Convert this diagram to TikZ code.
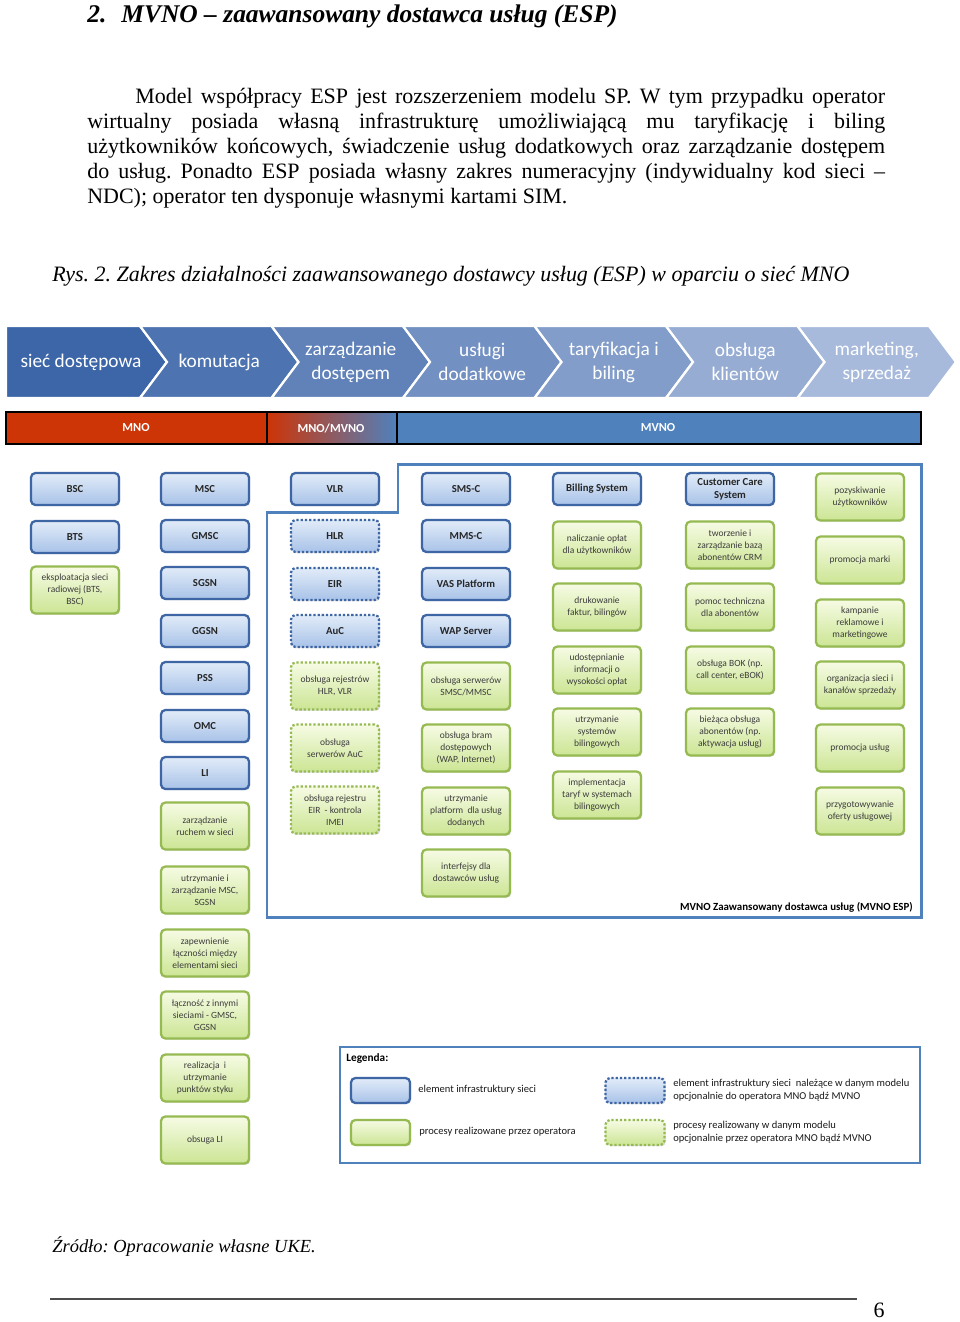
\documentclass[tikz,border=0pt]{standalone}
\usepackage{fontspec}
\setmainfont{Liberation Serif}
\newfontfamily\calfont{Carlito}
\usetikzlibrary{shadows}
\definecolor{chevDark}{RGB}{60,102,168}
\definecolor{chevLight}{RGB}{168,186,220}
\definecolor{mnoRed}{RGB}{205,52,6}
\definecolor{mixViolet}{RGB}{170,80,140}
\definecolor{mvnoBlue}{RGB}{79,129,189}
\definecolor{infraTop}{RGB}{226,236,249}
\definecolor{infraBot}{RGB}{168,194,232}
\definecolor{infraLine}{RGB}{62,102,164}
\definecolor{procTop}{RGB}{246,251,228}
\definecolor{procBot}{RGB}{204,229,148}
\definecolor{procLine}{RGB}{150,186,82}
\definecolor{procText}{RGB}{60,60,60}
\frenchspacing

\begin{document}
\begin{tikzpicture}[
  x=0.02cm, y=-0.02cm,
  every node/.style={inner sep=0pt},
  box/.style={rounded corners=2.5pt, minimum width=1.76cm, align=center, line width=1.3pt,
              drop shadow={shadow xshift=0.7pt, shadow yshift=-0.7pt, opacity=0.3}},
  infra/.style={box, draw=infraLine, top color=infraTop, bottom color=infraBot, minimum height=0.64cm,
                font=\calfont\bfseries\fontsize{6.1}{7.2}\selectfont, text=black!85},
  infraopt/.style={infra, dash pattern=on 1.3pt off 1.1pt},
  proc/.style={box, draw=procLine, top color=procTop, bottom color=procBot, minimum height=0.94cm,
               font=\calfont\fontsize{5.4}{6.8}\selectfont, text=procText},
  procopt/.style={proc, dash pattern=on 1.3pt off 1.1pt},
  legbox/.style={minimum width=1.18cm, minimum height=0.5cm},
  chev/.style={font=\calfont\fontsize{11}{13.6}\selectfont, text=white, align=center},
  bar/.style={font=\calfont\bfseries\fontsize{7}{8}\selectfont, text=white},
  lgd/.style={font=\calfont\fontsize{6}{7.2}\selectfont, text=black!90, align=left, anchor=west},
  txt/.style={font=\fontsize{12.5}{14.17}\selectfont}
]
\fill[white] (0,0) rectangle (960,1322);
\useasboundingbox (0,0) rectangle (960,1322);

\node[txt, anchor=base west, font=\bfseries\itshape\fontsize{14.5}{16}\selectfont] (tytul) at (87,22)
  {2.\hspace{0.3cm}MVNO – zaawansowany dostawca usług (ESP)};
\node[txt, anchor=north west, text width=15.96cm, align=justify] (akapit) at (87,88)
  {\hspace*{0.96cm}Model współpracy ESP jest rozszerzeniem modelu SP. W tym przypadku operator\linebreak
   wirtualny posiada własną infrastrukturę umożliwiającą mu taryfikację i biling\linebreak
   użytkowników końcowych, świadczenie usług dodatkowych oraz zarządzanie dostępem\linebreak
   do usług. Ponadto ESP posiada własny zakres numeracyjny (indywidualny kod sieci –\linebreak
   NDC); operator ten dysponuje własnymi kartami SIM.};
\node[txt, anchor=base west, font=\itshape\fontsize{12.5}{14}\selectfont] (rys) at (52,281)
  {Rys. 2. Zakres działalności zaawansowanego dostawcy usług (ESP) w oparciu o sieć MNO};

\foreach \i/\lab in {0/{sieć dostępowa},1/{komutacja},2/{zarządzanie\\dostępem},3/{usługi\\dodatkowe},
                     4/{taryfikacja i\\biling},5/{obsługa\\klientów},6/{marketing,\\sprzedaż}}{
  \pgfmathsetmacro\R{140+131.5*\i}
  \pgfmathsetmacro\L{\R-131.5}
  \pgfmathtruncatemacro\pct{\i*100/6}
  \colorlet{segcol}{chevLight!\pct!chevDark}
  \ifnum\i=0
    \fill[segcol, draw=white, line width=1.3pt] (6,326) -- (\R,326) -- (\R+27,362) -- (\R,398) -- (6,398) -- cycle;
    \node[chev] (seg\i) at (81,362) {\lab};
  \else
    \fill[segcol, draw=white, line width=1.3pt] (\L,326) -- (\R,326) -- (\R+27,362) -- (\R,398) -- (\L,398) -- (\L+27,362) -- cycle;
    \node[chev] (seg\i) at (\L+79.25,362) {\lab};
  \fi
}

\fill[mnoRed] (6,412) rectangle (267,444);
\shade[left color=mnoRed, middle color=mixViolet, right color=mvnoBlue] (267,412) rectangle (397,444);
\fill[mvnoBlue] (397,412) rectangle (921,444);
\draw[line width=0.9pt] (6,412) rectangle (921,444);
\draw[line width=0.9pt] (267,412) -- (267,444) (397,412) -- (397,444);
\node[bar] (mno) at (136,428) {MNO};
\node[bar] (mnomvno) at (331,428) {MNO/MVNO};
\node[bar] (mvno) at (658,428) {MVNO};

\draw[mvnoBlue, line width=1.7pt] (267,512) -- (398,512) -- (398,464) -- (921,464) -- (921,917) -- (267,917) -- cycle;
\node[anchor=east, font=\calfont\bfseries\fontsize{6.2}{7}\selectfont] (esp) at (913,907)
  {MVNO Zaawansowany dostawca usług (MVNO ESP)};

\node[infra] (bsc) at (75,489) {BSC};
\node[infra] (bts) at (75,537) {BTS};
\node[proc] (eksp) at (75,590) {eksploatacja sieci\\radiowej (BTS,\\BSC)};

\node[infra] (msc) at (205,489) {MSC};
\node[infra] (gmsc) at (205,536) {GMSC};
\node[infra] (sgsn) at (205,583) {SGSN};
\node[infra] (ggsn) at (205,631) {GGSN};
\node[infra] (pss) at (205,678) {PSS};
\node[infra] (omc) at (205,726) {OMC};
\node[infra] (li) at (205,773) {LI};
\node[proc] (ruch) at (205,826) {zarządzanie\\ruchem w sieci};
\node[proc] (utrz) at (205,890) {utrzymanie i\\zarządzanie MSC,\\SGSN};
\node[proc] (lacz) at (205,953) {zapewnienie\\łączności między\\elementami sieci};
\node[proc] (inne) at (205,1015) {łączność z innymi\\sieciami - GMSC,\\GGSN};
\node[proc] (styk) at (205,1078) {realizacja\ \ i\\utrzymanie\\punktów styku};
\node[proc] (obli) at (205,1140) {obsuga LI};

\node[infra] (vlr) at (335,489) {VLR};
\node[infraopt] (hlr) at (335,536) {HLR};
\node[infraopt] (eir) at (335,584) {EIR};
\node[infraopt] (auc) at (335,631) {AuC};
\node[procopt] (rejhlr) at (335,686) {obsługa rejestrów\\HLR, VLR};
\node[procopt] (serauc) at (335,748) {obsługa\\serwerów AuC};
\node[procopt] (rejeir) at (335,810) {obsługa rejestru\\EIR\ \ - kontrola\\IMEI};

\node[infra] (smsc) at (466,489) {SMS-C};
\node[infra] (mmsc) at (466,536) {MMS-C};
\node[infra] (vas) at (466,584) {VAS Platform};
\node[infra] (wap) at (466,631) {WAP Server};
\node[proc] (sersms) at (466,686) {obsługa serwerów\\SMSC/MMSC};
\node[proc] (bram) at (466,748) {obsługa bram\\dostępowych\\(WAP, Internet)};
\node[proc] (plat) at (466,811) {utrzymanie\\platform\ \ dla usług\\dodanych};
\node[proc] (intf) at (466,873) {interfejsy dla\\dostawców usług};

\node[infra] (bill) at (597,489) {Billing System};
\node[proc] (nalicz) at (597,545) {naliczanie opłat\\dla użytkowników};
\node[proc] (druk) at (597,607) {drukowanie\\faktur, bilingów};
\node[proc] (udost) at (597,670) {udostępnianie\\informacji o\\wysokości opłat};
\node[proc] (sysbil) at (597,732) {utrzymanie\\systemów\\bilingowych};
\node[proc] (taryf) at (597,795) {implementacja\\taryf w systemach\\bilingowych};

\node[infra] (ccs) at (730,489) {Customer Care\\System};
\node[proc] (crm) at (730,545) {tworzenie i\\zarządzanie bazą\\abonentów CRM};
\node[proc] (pomoc) at (730,607) {pomoc techniczna\\dla abonentów};
\node[proc] (bok) at (730,670) {obsługa BOK (np.\\call center, eBOK)};
\node[proc] (biez) at (730,732) {bieżąca obsługa\\abonentów (np.\\aktywacja usług)};

\node[proc] (pozysk) at (860,497) {pozyskiwanie\\użytkowników};
\node[proc] (marka) at (860,560) {promocja marki};
\node[proc] (kamp) at (860,623) {kampanie\\reklamowe i\\marketingowe};
\node[proc] (kanal) at (860,685) {organizacja sieci i\\kanałów sprzedaży};
\node[proc] (promu) at (860,748) {promocja usług};
\node[proc] (oferta) at (860,811) {przygotowywanie\\oferty usługowej};

\draw[mvnoBlue, line width=1.2pt, fill=white, drop shadow={shadow xshift=0.8pt, shadow yshift=-0.8pt, opacity=0.3}]
  (340,1047) rectangle (920,1163);
\node[anchor=west, font=\calfont\bfseries\fontsize{6.4}{7.5}\selectfont] (legenda) at (346,1058) {Legenda:};
\node[infra, legbox] (lgInfra) at (380.5,1090.5) {};
\node[proc, legbox] (lgProc) at (380.5,1132.5) {};
\node[infraopt, legbox] (lgInfraOpt) at (635,1090.5) {};
\node[procopt, legbox] (lgProcOpt) at (635,1132.5) {};
\node[lgd] (lgInfraTxt) at (418,1090) {element infrastruktury sieci};
\node[lgd] (lgProcTxt) at (419,1132) {procesy realizowane przez operatora};
\node[lgd] (lgInfraOptTxt) at (673,1090) {element infrastruktury sieci\ \ należące w danym modelu\\opcjonalnie do operatora MNO bądź MVNO};
\node[lgd] (lgProcOptTxt) at (673,1132) {procesy realizowany w danym modelu\\opcjonalnie przez operatora MNO bądź MVNO};

\node[txt, anchor=base west, font=\itshape\fontsize{10.5}{12}\selectfont] (zrodlo) at (52,1252) {Źródło: Opracowanie własne UKE.};
\draw[line width=0.6pt, black!70] (50,1299) -- (857,1299);
\node[txt, anchor=base] (nrstr) at (879,1317) {6};
\end{tikzpicture}
\end{document}
